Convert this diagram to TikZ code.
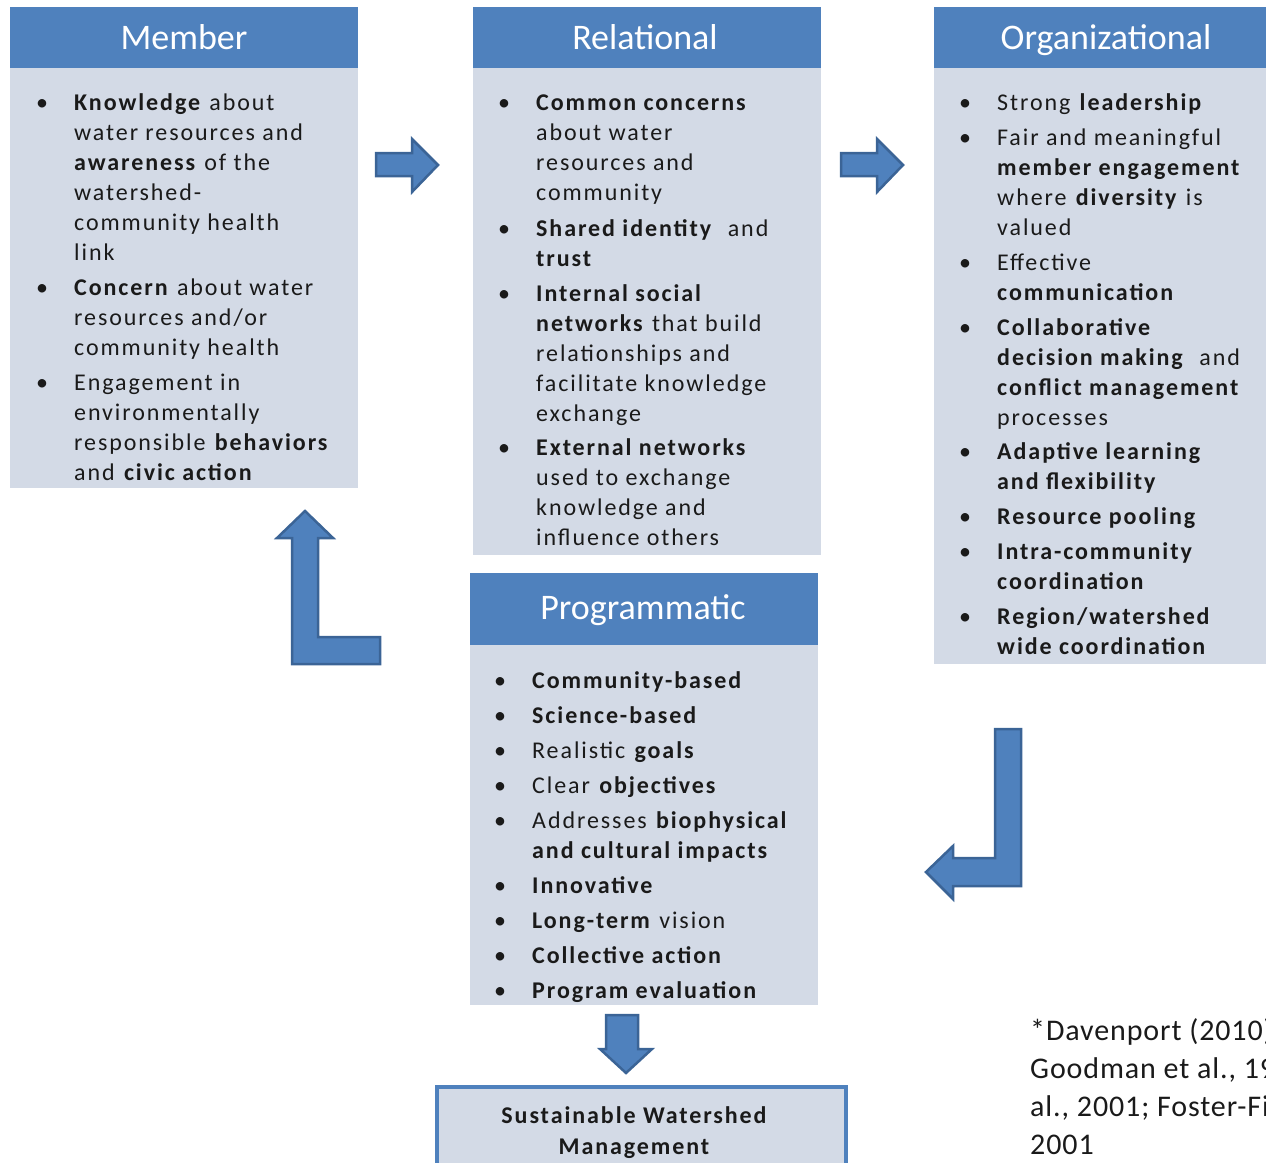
\documentclass[tikz,border=0pt]{standalone}
\usepackage{fontspec}
\newfontfamily\bodyf[LetterSpace=8]{Carlito}
\newfontfamily\headf{Carlito}
\newfontfamily\citef[LetterSpace=3]{Carlito}
\definecolor{hblue}{HTML}{4F81BD}
\definecolor{bodyc}{HTML}{D3DAE6}
\definecolor{adark}{HTML}{3B6496}
\definecolor{txt}{HTML}{1A1A1A}
\newcommand{\bu}{\makebox[38pt][l]{\textbullet}}
\tikzset{
  hdr/.style={rectangle, fill=hblue, inner sep=0, anchor=north west},
  hdrtext/.style={anchor=base, inner sep=0, text=white, font=\headf\fontsize{36}{42}\selectfont},
  bodybox/.style={rectangle, fill=bodyc, inner sep=0, anchor=north west},
  content/.style={anchor=base west, inner sep=0, text=txt, font=\bodyf\fontsize{24}{30}\selectfont},
  barrow/.style={fill=hblue, draw=adark, line width=2.5pt, line join=miter},
}
\begin{document}
\begin{tikzpicture}[x=1pt,y=-1pt]
\useasboundingbox (0,0) rectangle (1266,1162);
\clip (0,0) rectangle (1266,1162);

% Member
\node[hdr, minimum width=348pt, minimum height=61pt] (mh) at (10,7) {};
\node[bodybox, minimum width=348pt, minimum height=420pt] (mb) at (10,68) {};
\node[hdrtext] (mt) at (184,49) {Member};
\node[content] (mc) at (36,110) {\begin{tabular}[t]{@{}l@{}l@{}}
\bu & \textbf{Knowledge} about\\
& water resources and\\
& \textbf{awareness} of the\\
& watershed-\\
& community health\\
& link\\[5pt]
\bu & \textbf{Concern} about water\\
& resources and/or\\
& community health\\[5pt]
\bu & Engagement in\\
& environmentally\\
& responsible \textbf{behaviors}\\
& and \textbf{civic action}
\end{tabular}};

% Relational
\node[hdr, minimum width=348pt, minimum height=61pt] (rh) at (473,7) {};
\node[bodybox, minimum width=348pt, minimum height=487pt] (rb) at (473,68) {};
\node[hdrtext] (rt) at (645,49) {Relational};
\node[content] (rc) at (498,110) {\begin{tabular}[t]{@{}l@{}l@{}}
\bu & \textbf{Common concerns}\\
& about water\\
& resources and\\
& community\\[6pt]
\bu & \textbf{Shared identity}\ \ and\\
& \textbf{trust}\\[5pt]
\bu & \textbf{Internal social}\\
& \textbf{networks} that build\\
& relationships and\\
& facilitate knowledge\\
& exchange\\[4pt]
\bu & \textbf{External networks}\\
& used to exchange\\
& knowledge and\\
& influence others
\end{tabular}};

% Organizational
\node[hdr, minimum width=346pt, minimum height=61pt] (oh) at (934,7) {};
\node[bodybox, minimum width=346pt, minimum height=596pt] (ob) at (934,68) {};
\node[hdrtext] (ot) at (1106,49) {Organizational};
\node[content] (oc) at (959,110) {\begin{tabular}[t]{@{}l@{}l@{}}
\bu & Strong \textbf{leadership}\\[5pt]
\bu & Fair and meaningful\\
& \textbf{member engagement}\\
& where \textbf{diversity} is\\
& valued\\[5pt]
\bu & Effective\\
& \textbf{communication}\\[5pt]
\bu & \textbf{Collaborative}\\
& \textbf{decision making}\ \ and\\
& \textbf{conflict management}\\
& processes\\[4pt]
\bu & \textbf{Adaptive learning}\\
& \textbf{and flexibility}\\[5pt]
\bu & \textbf{Resource pooling}\\[5pt]
\bu & \textbf{Intra-community}\\
& \textbf{coordination}\\[5pt]
\bu & \textbf{Region/watershed}\\
& \textbf{wide coordination}
\end{tabular}};

% Programmatic
\node[hdr, minimum width=348pt, minimum height=72pt] (ph) at (470,573) {};
\node[bodybox, minimum width=348pt, minimum height=360pt] (pb) at (470,645) {};
\node[hdrtext] (pt) at (643,619) {Programmatic};
\node[content] (pc) at (494,688) {\begin{tabular}[t]{@{}l@{}l@{}}
\bu & \textbf{Community-based}\\[5pt]
\bu & \textbf{Science-based}\\[5pt]
\bu & Realistic \textbf{goals}\\[5pt]
\bu & Clear \textbf{objectives}\\[5pt]
\bu & Addresses \textbf{biophysical}\\
& \textbf{and cultural impacts}\\[5pt]
\bu & \textbf{Innovative}\\[5pt]
\bu & \textbf{Long-term} vision\\[5pt]
\bu & \textbf{Collective action}\\[5pt]
\bu & \textbf{Program evaluation}
\end{tabular}};

% Sustainable Watershed Management
\node[rectangle, fill=bodyc, draw=hblue, line width=3.5pt, anchor=north west,
      minimum width=409pt, minimum height=110pt] (sw) at (435,1085) {};
\node[anchor=base, inner sep=0, align=center, text=txt,
      font=\bodyf\fontsize{24}{31}\selectfont\bfseries] (swt) at (634,1154)
      {Sustainable Watershed\\Management};

% Citation
\node[anchor=base west, inner sep=0, align=left, text=txt,
      font=\citef\fontsize{30}{38}\selectfont] (cite) at (1030,1154)
      {*Davenport (2010);\\Goodman et al., 1998; Norton et\\al., 2001; Foster-Fishman et al.,\\2001};

% Block arrows
\draw[barrow] (376,153) -- (412,153) -- (412,139) -- (438,165) -- (412,192) -- (412,176) -- (376,176) -- cycle;
\draw[barrow] (841,153) -- (877,153) -- (877,139) -- (903,165) -- (877,192) -- (877,176) -- (841,176) -- cycle;
\draw[barrow] (305,511) -- (333,538) -- (318,538) -- (318,637) -- (380,637) -- (380,664) -- (292,664) -- (292,538) -- (277,538) -- cycle;
\draw[barrow] (1021,729) -- (1021,886) -- (953,886) -- (953,899) -- (926,872) -- (953,846) -- (953,858) -- (995,858) -- (995,729) -- cycle;
\draw[barrow] (606,1015) -- (638,1015) -- (638,1049) -- (652,1049) -- (626,1073) -- (600,1049) -- (606,1049) -- cycle;
\end{tikzpicture}
\end{document}
